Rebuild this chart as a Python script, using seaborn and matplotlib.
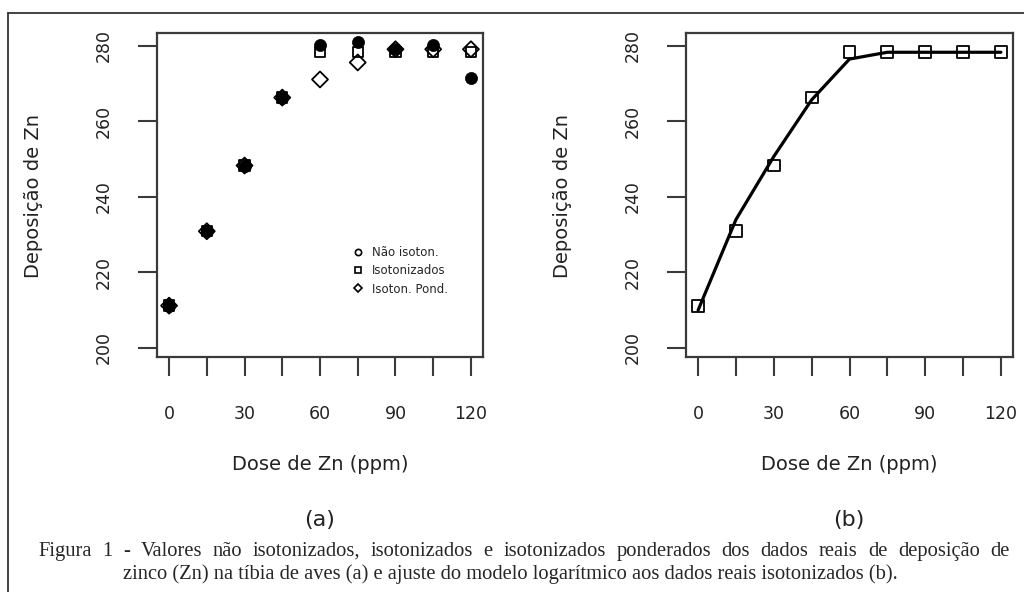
import matplotlib
matplotlib.use("Agg")
import matplotlib.pyplot as plt
import seaborn as sns
from matplotlib.lines import Line2D

# Dados
dose = [0, 15, 30, 45, 60, 75, 90, 105, 120]
nao_isoton = [211.2, 230.9, 248.3, 266.3, 280.3, 280.9, 279.1, 280.3, 271.4]
isotonizados = [211.2, 230.9, 248.3, 266.3, 278.3, 278.3, 278.3, 278.3, 278.3]
isoton_pond = [211.2, 230.9, 248.3, 266.3, 271.1, 275.6, 279.1, 279.1, 279.1]
ajuste_log = [210.0, 234.0, 250.7, 265.7, 276.5, 278.3, 278.3, 278.3, 278.3]

x_ticks = [0, 15, 30, 45, 60, 75, 90, 105, 120]
x_labels = ['0', '', '30', '', '60', '', '90', '', '120']
y_ticks = [200, 220, 240, 260, 280]
legend_labels = ['Não isoton.', 'Isotonizados', 'Isoton. Pond.']

caption_1 = ("Figura 1 - Valores não isotonizados, isotonizados e isotonizados "
             "ponderados dos dados reais de deposição de")
caption_2 = ("zinco (Zn) na tíbia de aves (a) e ajuste do modelo logarítmico "
             "aos dados reais isotonizados (b).")

sns.set_style("ticks")
plt.rcParams['font.family'] = ['DejaVu Sans']

W, H = 1024, 592
fig = plt.figure(figsize=(W / 100, H / 100), dpi=100)
fig.patch.set_facecolor('white')

def fx(px):
    return px / W

def fy(py):
    return 1 - py / H

axa = fig.add_axes([fx(157), fy(357), fx(326), 324 / H])
axb = fig.add_axes([fx(686), fy(357), fx(327), 324 / H])

box_col = '#3a3a3a'
for ax in (axa, axb):
    ax.set_xlim(-4.8, 124.8)
    ax.set_ylim(197.6, 283.4)
    ax.set_xticks(x_ticks)
    ax.set_xticklabels(x_labels)
    ax.set_yticks(y_ticks)
    ax.set_yticklabels([str(v) for v in y_ticks], rotation=90, va='center')
    ax.tick_params(axis='both', length=13.7, width=1.5, color=box_col,
                   labelsize=12.5, labelcolor='#222222')
    ax.tick_params(axis='x', pad=21)
    ax.tick_params(axis='y', pad=18)
    for sp in ax.spines.values():
        sp.set_visible(True)
        sp.set_color(box_col)
        sp.set_linewidth(1.6)
    ax.set_xlabel('')
    ax.set_ylabel('')
    ax.set_facecolor('white')

# (a) pontos
sns.scatterplot(x=dose, y=nao_isoton, ax=axa, marker='o', s=76,
                color='black', edgecolor='black', linewidth=0.5, zorder=3)
sns.scatterplot(x=dose, y=isotonizados, ax=axa, marker='s', s=56,
                facecolor='none', edgecolor='black', linewidth=1.3, zorder=4)
sns.scatterplot(x=dose, y=isoton_pond, ax=axa, marker='D', s=66,
                facecolor='none', edgecolor='black', linewidth=1.3, zorder=5)

handles = [
    Line2D([], [], ls='none', marker='o', ms=4.5, mfc='none', mec='black', mew=1.2),
    Line2D([], [], ls='none', marker='s', ms=4.2, mfc='none', mec='black', mew=1.2),
    Line2D([], [], ls='none', marker='D', ms=4.0, mfc='none', mec='black', mew=1.2),
]
axa.legend(handles, legend_labels, loc='upper left',
           bbox_to_anchor=(fx(352), fy(246)), bbox_transform=fig.transFigure,
           frameon=False, fontsize=8.5, borderpad=0, handlelength=1.0,
           handletextpad=0.7, labelspacing=0.45, borderaxespad=0)

# (b) ajuste
sns.lineplot(x=dose, y=ajuste_log, ax=axb, color='black', linewidth=2.3, zorder=3)
sns.scatterplot(x=dose, y=isotonizados, ax=axb, marker='s', s=72,
                facecolor='none', edgecolor='black', linewidth=1.3, zorder=4)

# rótulos
for cx, ylx, tag in ((320, 34, '(a)'), (849, 563, '(b)')):
    fig.text(fx(cx), fy(465), 'Dose de Zn (ppm)', ha='center', va='center',
             fontsize=14, color='#222222')
    fig.text(fx(ylx), fy(196), 'Deposição de Zn', ha='center', va='center',
             rotation=90, fontsize=14, color='#222222')
    fig.text(fx(cx), fy(520), tag, ha='center', va='center',
             fontsize=16, color='#222222')

# moldura externa
fig.add_artist(Line2D([fx(8), fx(8)], [fy(13), 0], color='#333333', lw=1.3))
fig.add_artist(Line2D([fx(8), 1], [fy(13), fy(13)], color='#333333', lw=1.3))

# legenda da figura (linha 1 justificada)
serif = ['Liberation Serif', 'DejaVu Serif']
cap_size = 14.8
renderer = fig.canvas.get_renderer()
words = caption_1.split(' ')
texts = [fig.text(0, fy(556), w, fontsize=cap_size, family=serif, va='baseline')
         for w in words]
widths = [t.get_window_extent(renderer).width for t in texts]
x0, x1 = 38, 1010
gap = (x1 - x0 - sum(widths)) / (len(words) - 1)
xpos = x0
for t, w in zip(texts, widths):
    t.set_x(fx(xpos))
    xpos += w + gap
fig.text(fx(123), fy(579), caption_2, fontsize=cap_size, family=serif,
         va='baseline')

fig.savefig('out.png', dpi=100, facecolor='white')
